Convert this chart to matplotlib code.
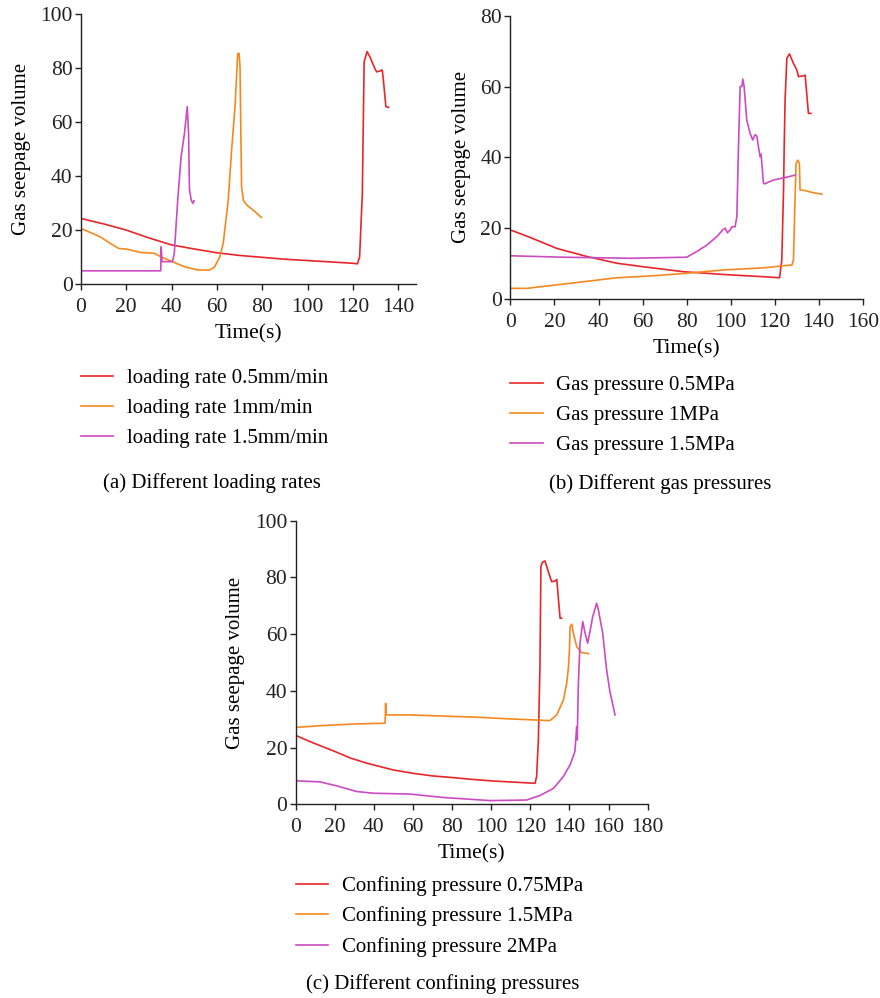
import matplotlib.pyplot as plt
import numpy as np

plt.rcParams['font.family'] = ['Liberation Serif', 'DejaVu Serif']
plt.rcParams['font.size'] = 15

RED = '#e8262a'
ORANGE = '#f5891e'
MAGENTA = '#cc4bc2'

# (a) different loading rates
a_t_05 = [0, 10, 20, 30, 40, 50, 60, 70, 80, 90, 100, 110, 120, 122, 123, 124.2, 125, 126.3, 127.5, 129.7, 130.5,
          132, 133, 133.5, 134.6, 135.8]
a_v_05 = [24.3, 22.3, 20.0, 17.1, 14.5, 13.0, 11.6, 10.6, 9.9, 9.2, 8.7, 8.2, 7.7, 7.5, 10, 33.6, 82.4, 86.2, 84.3,
          80, 78.7, 79, 79.4, 75.6, 65.8, 65.5]
a_t_1 = [0, 8.5, 12.9, 16.7, 20.4, 26.3, 32.3, 35.3, 39.7, 45.7, 51.6, 56.8, 59, 61.3, 62.8, 65, 66.5, 68, 69.2,
         69.8, 70.2, 70.9, 71.7, 73.2, 76.9, 79.6]
a_v_1 = [20.6, 17.5, 15.1, 13.2, 12.9, 11.7, 11.4, 10.1, 8.5, 6.4, 5.2, 5.2, 6.4, 10.1, 15.1, 31, 49.7, 65.8, 85.5,
         85.5, 80.6, 36.1, 31, 29.3, 26.8, 24.7]
a_t_15 = [0, 35.2, 35.4, 35.8, 40.4, 41.2, 42.7, 44.2, 45.7, 46.9, 47.5, 47.9, 48.7, 49.4, 49.9]
a_v_15 = [4.9, 4.9, 13.8, 8.3, 8.3, 11.4, 31, 47.2, 55.9, 65.8, 55.9, 34.9, 31.1, 29.9, 30.9]

# (b) different gas pressures
b_t_05 = [0, 8.9, 21, 34.7, 48.3, 60.4, 78.6, 99.8, 114.9, 122.2, 123.2, 124, 124.3, 124.7, 125.5, 126.7, 128.5,
          130, 130.8, 133, 133.8, 135.3, 136.4]
b_v_05 = [19.5, 17.4, 14.3, 12, 10.1, 9.1, 7.7, 6.8, 6.3, 6.0, 11, 30.8, 43, 56.2, 68, 69.2, 66.5,
          64.7, 62.8, 63, 63.2, 52.4, 52.4]
b_t_1 = [0, 7.4, 21, 36.2, 48.3, 63.4, 78.6, 96.7, 114.9, 127.8, 128.5, 129, 129.3, 129.7, 130.5, 131.2, 131.5,
         133.8, 137.6, 141.4]
b_v_1 = [3.0, 3.0, 4.0, 5.1, 6.0, 6.5, 7.2, 8.2, 8.8, 9.6, 11, 23.2, 29.8, 38.3, 39.2, 38.3, 30.8,
         30.6, 30, 29.6]
b_t_15 = [0, 24, 54.3, 80, 84.6, 89.1, 93.7, 96.4, 97.5, 98.5, 99.8, 100.5, 102, 102.8, 103.5, 104.3, 105.1, 105.5,
          106.1, 107.3, 108.8, 110, 111.1, 111.9, 112.6, 113.4, 113.8, 114.9, 115.4, 119.4, 125.5, 129.3]
b_v_15 = [12.2, 11.8, 11.5, 11.8, 13.4, 15.2, 17.6, 19.5, 20, 18.7, 19.5, 20.4, 20.4, 23.2, 42, 60, 60, 62.1,
          60, 50.5, 46.8, 44.9, 46.4, 46, 43, 40.2, 40.9, 32.7, 32.5, 33.6, 34.4, 35.0]

# (c) different confining pressures
c_t_075 = [0, 7.3, 20.1, 28, 36.3, 49.9, 60.2, 70, 80.6, 90, 101.1, 112, 122.4, 123.2, 124.1, 124.9, 125.4, 126.1,
           127.5, 129.2, 130.9, 132.6, 133.5, 135.2, 136]
c_v_075 = [24.3, 22.1, 18.6, 16.3, 14.5, 12.1, 10.9, 10.0, 9.4, 8.8, 8.2, 7.8, 7.4, 9.8, 22.7, 48.5, 83.8, 85.3,
           85.8, 82, 78.5, 78.7, 79.3, 65.6, 65.6]
c_t_15 = [0, 12.4, 29.5, 45.7, 46, 46.2, 58.5, 92.6, 109.6, 130, 133.5, 136.9, 138.6, 139.5, 140, 140.3, 141.2,
          142, 143.7, 146.2, 149.7]
c_v_15 = [27.1, 27.7, 28.3, 28.6, 35.6, 31.5, 31.5, 30.7, 30.1, 29.5, 31.5, 36.8, 42.7, 48.5, 54.4, 62.6, 63.5,
          60.3, 55.6, 53.5, 53.1]
c_t_2 = [0, 12.4, 21, 31.2, 39.7, 58.5, 75.5, 99.4, 118.1, 124.9, 131.8, 136.9, 140.3, 142.8, 143.7, 144, 144.5,
         145.4, 146.8, 148, 149.3, 150.5, 151.9, 153.9, 154.8, 157, 159, 160.7, 163.3]
c_v_2 = [8.3, 7.9, 6.5, 4.5, 3.9, 3.6, 2.4, 1.3, 1.5, 3.1, 5.6, 9.8, 13.9, 18.6, 27.4, 22.7, 41.5,
         56.8, 64.4, 60.3, 56.8, 60.9, 66.2, 70.9, 68.5, 60.3, 47.4, 39.7, 31.5]

panels = [
    dict(rect=[0.092, 0.7154, 0.381, 0.2702], xlim=148, xticks=range(0, 141, 20), ylim=100, yticks=range(0, 101, 20),
         series=[(a_t_05, a_v_05, RED, 'loading rate 0.5mm/min'),
                 (a_t_1, a_v_1, ORANGE, 'loading rate 1mm/min'),
                 (a_t_15, a_v_15, MAGENTA, 'loading rate 1.5mm/min')],
         leg=(0.092, 0.631), cap=(0.241, 0.516, '(a) Different loading rates')),
    dict(rect=[0.580, 0.7004, 0.4005, 0.2839], xlim=160, xticks=range(0, 161, 20), ylim=80, yticks=range(0, 81, 20),
         series=[(b_t_05, b_v_05, RED, 'Gas pressure 0.5MPa'),
                 (b_t_1, b_v_1, ORANGE, 'Gas pressure 1MPa'),
                 (b_t_15, b_v_15, MAGENTA, 'Gas pressure 1.5MPa')],
         leg=(0.580, 0.624), cap=(0.750, 0.515, '(b) Different gas pressures')),
    dict(rect=[0.336, 0.1941, 0.400, 0.2842], xlim=180, xticks=range(0, 181, 20), ylim=100, yticks=range(0, 101, 20),
         series=[(c_t_075, c_v_075, RED, 'Confining pressure 0.75MPa'),
                 (c_t_15, c_v_15, ORANGE, 'Confining pressure 1.5MPa'),
                 (c_t_2, c_v_2, MAGENTA, 'Confining pressure 2MPa')],
         leg=(0.336, 0.122), cap=(0.503, 0.014, '(c) Different confining pressures')),
]

fig = plt.figure(figsize=(8.8, 9.98), dpi=100)

for p in panels:
    ax = fig.add_axes(p['rect'])
    for t, v, col, lab in p['series']:
        ax.plot(t, v, color=col, lw=1.2, label=lab)
    ax.set_xlim(0, p['xlim'])
    ax.set_ylim(0, p['ylim'])
    ax.set_xticks(list(p['xticks']))
    ax.set_yticks(list(p['yticks']))
    for s in ['top', 'right']:
        ax.spines[s].set_visible(False)
    for s in ['left', 'bottom']:
        ax.spines[s].set_linewidth(1.0)
        ax.spines[s].set_color('#222222')
    ax.tick_params(direction='out', length=4, width=1.0, labelsize=15.5, pad=2, colors='#222222')
    ax.tick_params(axis='x', pad=6)
    ax.set_xlabel('Time(s)', fontsize=15.5, labelpad=5)
    ax.set_ylabel('Gas seepage volume', fontsize=15, labelpad=7)
    ax.legend(loc='upper left', bbox_to_anchor=p['leg'], bbox_transform=fig.transFigure,
              frameon=False, fontsize=15, handlelength=1.55, handletextpad=0.65,
              labelspacing=0.5, borderpad=0, borderaxespad=0)
    cx, cy, txt = p['cap']
    fig.text(cx, cy, txt, ha='center', va='center', fontsize=15)

fig.savefig('out.png', dpi=100)
